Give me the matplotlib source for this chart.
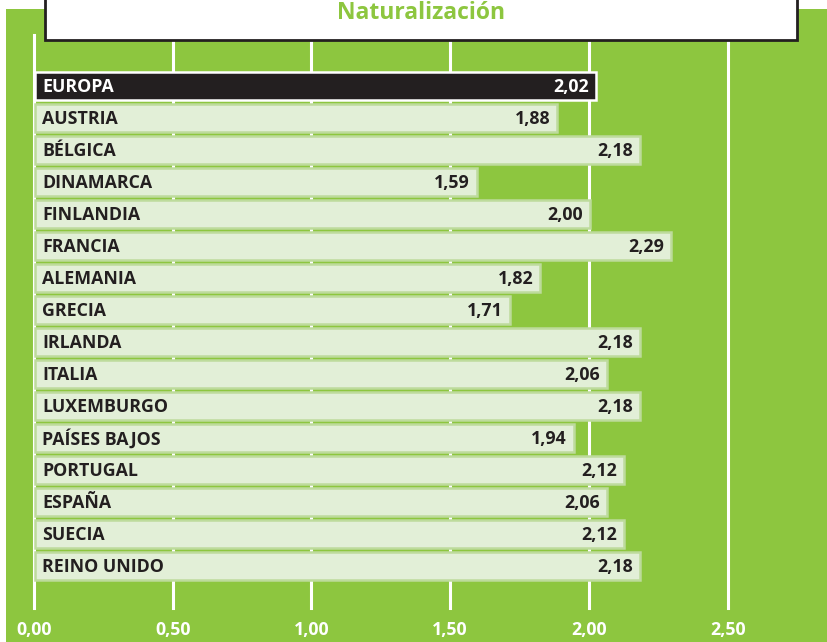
import matplotlib.pyplot as plt
from matplotlib.patches import Rectangle

plt.rcParams['font.family'] = ['Open Sans', 'DejaVu Sans']

paises = ['EUROPA', 'AUSTRIA', 'BÉLGICA', 'DINAMARCA', 'FINLANDIA', 'FRANCIA',
          'ALEMANIA', 'GRECIA', 'IRLANDA', 'ITALIA', 'LUXEMBURGO',
          'PAÍSES BAJOS', 'PORTUGAL', 'ESPAÑA', 'SUECIA', 'REINO UNIDO']
valores = [2.02, 1.88, 2.18, 1.59, 2.00, 2.29, 1.82, 1.71, 2.18, 2.06,
           2.18, 1.94, 2.12, 2.06, 2.12, 2.18]
ticks = [0, 0.5, 1.0, 1.5, 2.0, 2.5]
titulo = 'Naturalización'

verde = '#8dc63f'
claro = '#e2efd7'
borde = '#bddb9c'
oscuro = '#231f20'

fig = plt.figure(figsize=(8.27, 6.42), dpi=100)
ax = fig.add_axes([0, 0, 1, 1])
ax.set_xlim(-0.1225, 2.858)
ax.set_ylim(17.375, -2.6875)
ax.axis('off')

# fondo verde
fig.patches.append(Rectangle((6 / 827, 0), 1, 1 - 9 / 642, transform=fig.transFigure,
                             facecolor=verde, edgecolor='none', zorder=-1))

# lineas verticales
for t in ticks:
    top = -1.6 if t == 0 else -1.4
    ax.plot([t, t], [top, 16.3], color='white', lw=2.2, zorder=1)

for i, (p, v) in enumerate(zip(paises, valores)):
    if i == 0:
        fc, ec, tc = oscuro, 'white', 'white'
    else:
        fc, ec, tc = claro, borde, '#231f20'
    ax.barh(i, v, height=0.88, left=0.005, color=fc, edgecolor=ec, linewidth=1.8, zorder=2)
    ax.text(0.03, i + 0.03, p, ha='left', va='center', fontsize=12.8,
            fontweight='bold', color=tc, zorder=3)
    ax.text(v - 0.02, i + 0.03, f'{v:.2f}'.replace('.', ','), ha='right', va='center',
            fontsize=12.8, fontweight='bold', color=tc, zorder=3)

for t in ticks:
    ax.text(t, 17.0, f'{t:.2f}'.replace('.', ','), ha='center', va='center',
            fontsize=12.8, fontweight='bold', color='white', zorder=3)

# caja del titulo
fig.patches.append(Rectangle((45 / 827, 1 - 40 / 642), 752 / 827, 50 / 642,
                             transform=fig.transFigure, facecolor='white',
                             edgecolor='#231f20', linewidth=2, zorder=5))
fig.text(421 / 827, 1 - 13 / 642, titulo, ha='center', va='center', fontsize=16.5,
         fontweight='bold', color=verde, zorder=6)

fig.savefig('out.png', dpi=100)
